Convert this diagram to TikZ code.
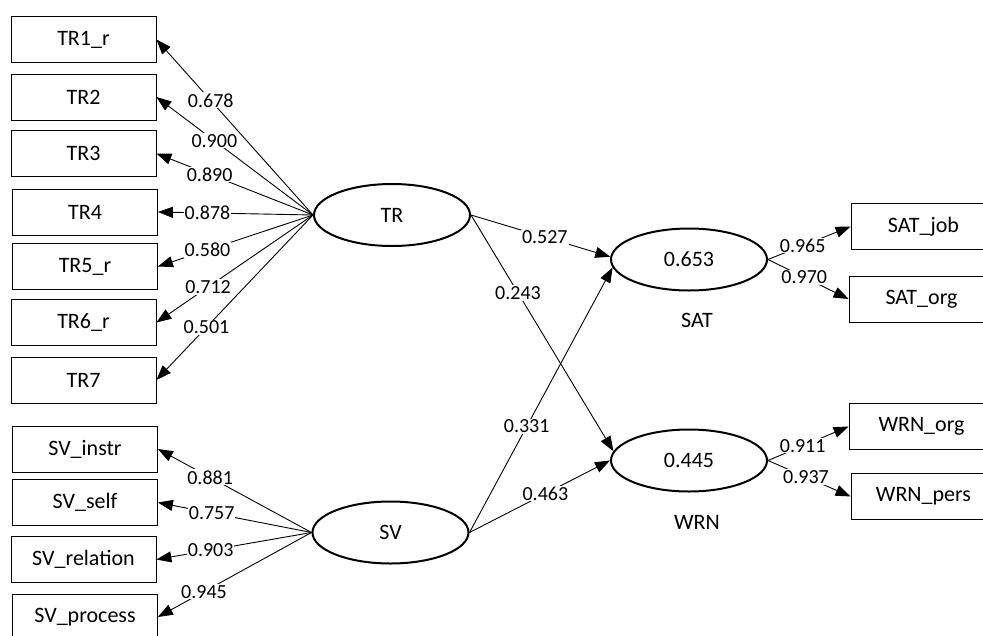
\documentclass[tikz,border=0pt]{standalone}
\usepackage{fontspec}
\setmainfont{Carlito}
\usetikzlibrary{shapes.geometric,arrows.meta}
\begin{document}
\begin{tikzpicture}[x=1pt,y=-1pt,
  box/.style={draw, line width=0.8pt, minimum width=145pt, minimum height=46pt, inner sep=0pt, font=\fontsize{22}{26}\selectfont},
  lat/.style={draw, ellipse, line width=2pt, minimum width=156pt, minimum height=62pt, inner sep=0pt, font=\fontsize{22}{26}\selectfont},
  latname/.style={font=\fontsize{22}{26}\selectfont},
  lbl/.style={fill=white, inner sep=1pt, font=\fontsize{20}{24}\selectfont},
  arr/.style={line width=0.9pt, -{Triangle[length=15pt,width=11pt]}}]
\useasboundingbox (0,0) rectangle (983,635);
\clip (0,0) rectangle (983,635);
% indicator boxes (left)
\node[box] (tr1) at (83.5,39.5) {TR1\_r};
\node[box] (tr2) at (83.5,97) {TR2};
\node[box] (tr3) at (83.5,153.5) {TR3};
\node[box] (tr4) at (85,212) {TR4};
\node[box] (tr5) at (85,266.5) {TR5\_r};
\node[box] (tr6) at (83.5,322.5) {TR6\_r};
\node[box] (tr7) at (83.5,380) {TR7};
\node[box] (sv1) at (85,449) {SV\_instr};
\node[box] (sv2) at (85,502.5) {SV\_self};
\node[box] (sv3) at (83.5,559.5) {SV\_relation};
\node[box] (sv4) at (85,617) {SV\_process};
% indicator boxes (right)
\node[box] (satjob) at (923.5,226.5) {SAT\_job};
\node[box] (satorg) at (921.5,299) {SAT\_org};
\node[box] (wrnorg) at (921.5,426.5) {WRN\_org};
\node[box] (wrnpers) at (923.5,496.5) {WRN\_pers};
% latent variables
\node[lat] (TR) at (392,215) {TR};
\node[lat] (SV) at (390.5,532.5) {SV};
\node[lat] (SAT) at (689,259.5) {0.653};
\node[lat] (WRN) at (689,460.5) {0.445};
\node[latname] (satname) at (697,320) {SAT};
\node[latname] (wrnname) at (697,522) {WRN};
% TR loadings
\draw[arr] (TR.west) -- coordinate[pos=0.653] (a1) (tr1.east);
\draw[arr] (TR.west) -- coordinate[pos=0.63] (a2) (tr2.east);
\draw[arr] (TR.west) -- coordinate[pos=0.66] (a3) (tr3.east);
\draw[arr] (TR.west) -- coordinate[pos=0.68] (a4) (tr4.east);
\draw[arr] (TR.west) -- coordinate[pos=0.68] (a5) (tr5.east);
\draw[arr] (TR.west) -- coordinate[pos=0.67] (a6) (tr6.east);
\draw[arr] (TR.west) -- coordinate[pos=0.68] (a7) (tr7.east);
% SV loadings
\draw[arr] (SV.west) -- coordinate[pos=0.66] (b1) (sv1.east);
\draw[arr] (SV.west) -- coordinate[pos=0.65] (b2) (sv2.east);
\draw[arr] (SV.west) -- coordinate[pos=0.65] (b3) (sv3.east);
\draw[arr] (SV.west) -- coordinate[pos=0.70] (b4) (sv4.east);
% structural paths
\draw[arr] (TR.east) -- coordinate[pos=0.53] (c1) (SAT.178);
\draw[arr] (TR.east) -- coordinate[pos=0.33] (c2) (WRN.173);
\draw[arr] (SV.east) -- coordinate[pos=0.40] (c3) (SAT.186);
\draw[arr] (SV.east) -- coordinate[pos=0.54] (c4) (WRN.west);
% right loadings
\draw[arr] (SAT.east) -- coordinate[pos=0.42] (d1) (satjob.west);
\draw[arr] (SAT.east) -- coordinate[pos=0.45] (d2) (satorg.west);
\draw[arr] (WRN.east) -- coordinate[pos=0.43] (d3) (wrnorg.west);
\draw[arr] (WRN.east) -- coordinate[pos=0.46] (d4) (wrnpers.west);
% labels
\node[lbl] at (a1) {0.678};
\node[lbl] at (a2) {0.900};
\node[lbl] at (a3) {0.890};
\node[lbl] at (a4) {0.878};
\node[lbl] at (a5) {0.580};
\node[lbl] at (a6) {0.712};
\node[lbl] at (a7) {0.501};
\node[lbl] at (b1) {0.881};
\node[lbl] at (b2) {0.757};
\node[lbl] at (b3) {0.903};
\node[lbl] at (b4) {0.945};
\node[lbl] at (c1) {0.527};
\node[lbl] at (c2) {0.243};
\node[lbl] at (c3) {0.331};
\node[lbl] at (c4) {0.463};
\node[lbl] at (d1) {0.965};
\node[lbl] at (d2) {0.970};
\node[lbl] at (d3) {0.911};
\node[lbl] at (d4) {0.937};
\end{tikzpicture}
\end{document}
